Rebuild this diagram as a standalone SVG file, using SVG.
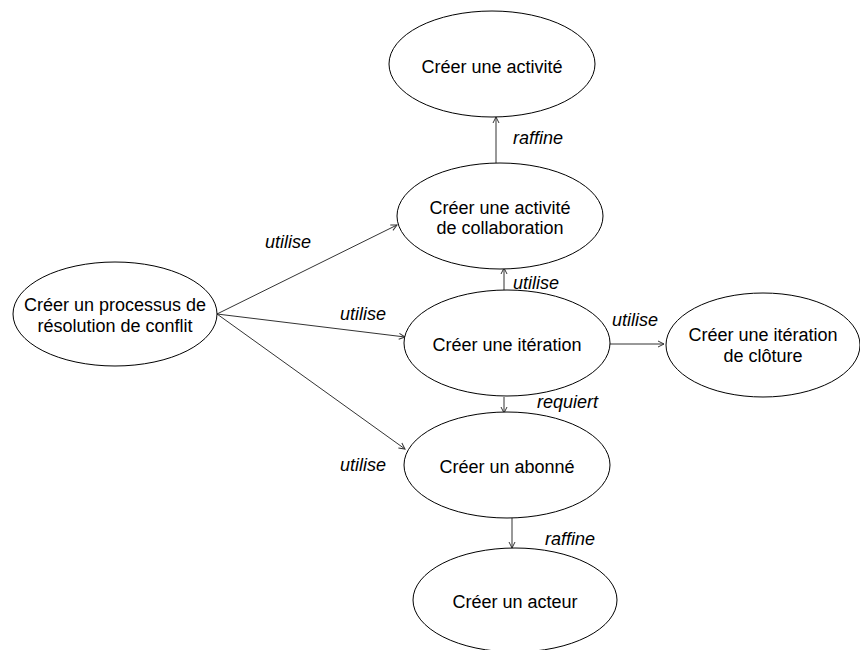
<svg xmlns="http://www.w3.org/2000/svg" width="860" height="650" viewBox="0 0 860 650">
<style>
.n ellipse{fill:#fff;stroke:#000;stroke-width:1}
.n text{font-family:"Liberation Sans",Arial,sans-serif;font-size:18px;fill:#000;text-anchor:middle}
.e line{stroke:#333;stroke-width:1;fill:none;marker-end:url(#ah)}
.lbl{font-family:"Liberation Sans",Arial,sans-serif;font-size:18px;font-style:italic;fill:#000}
</style>
<defs>
<marker id="ah" viewBox="0 0 8 8" refX="7" refY="4" markerWidth="8" markerHeight="8" markerUnits="userSpaceOnUse" orient="auto">
<path d="M1,1 L7,4 L1,7" fill="none" stroke="#333" stroke-width="1"/>
</marker>
</defs>
<rect width="860" height="650" fill="#fff"/>
<g class="e" id="connectors">
<line x1="496" y1="163" x2="496" y2="117"/>
<line x1="217" y1="314" x2="397" y2="225"/>
<line x1="217" y1="314" x2="405" y2="337"/>
<line x1="217" y1="314" x2="405" y2="449"/>
<line x1="504" y1="290" x2="504" y2="268"/>
<line x1="610" y1="344" x2="664" y2="344"/>
<line x1="504" y1="397" x2="504" y2="413"/>
<line x1="512" y1="518" x2="512" y2="548"/>
<text class="lbl" x="513" y="144">raffine</text>
<text class="lbl" x="265" y="248">utilise</text>
<text class="lbl" x="340" y="320">utilise</text>
<text class="lbl" x="340" y="471">utilise</text>
<text class="lbl" x="513" y="289">utilise</text>
<text class="lbl" x="612" y="326">utilise</text>
<text class="lbl" x="537" y="408">requiert</text>
<text class="lbl" x="545" y="545">raffine</text>
</g>
<g class="n" id="activite">
<ellipse cx="492" cy="64" rx="103" ry="53"/>
<text x="492" y="73">Créer une activité</text>
</g>
<g class="n" id="collaboration">
<ellipse cx="500" cy="216" rx="103" ry="53"/>
<text x="500" y="214">Créer une activité</text>
<text x="500" y="234">de collaboration</text>
</g>
<g class="n" id="processus">
<ellipse cx="115" cy="314" rx="102" ry="52"/>
<text x="115" y="311">Créer un processus de</text>
<text x="115" y="332">résolution de conflit</text>
</g>
<g class="n" id="iteration">
<ellipse cx="507" cy="343" rx="103" ry="53"/>
<text x="507" y="351">Créer une itération</text>
</g>
<g class="n" id="cloture">
<ellipse cx="763" cy="345" rx="97" ry="52"/>
<text x="763" y="341">Créer une itération</text>
<text x="763" y="362">de clôture</text>
</g>
<g class="n" id="abonne">
<ellipse cx="507" cy="465" rx="103" ry="53"/>
<text x="507" y="473">Créer un abonné</text>
</g>
<g class="n" id="acteur">
<ellipse cx="515" cy="600" rx="102" ry="52"/>
<text x="515" y="608">Créer un acteur</text>
</g>
</svg>
